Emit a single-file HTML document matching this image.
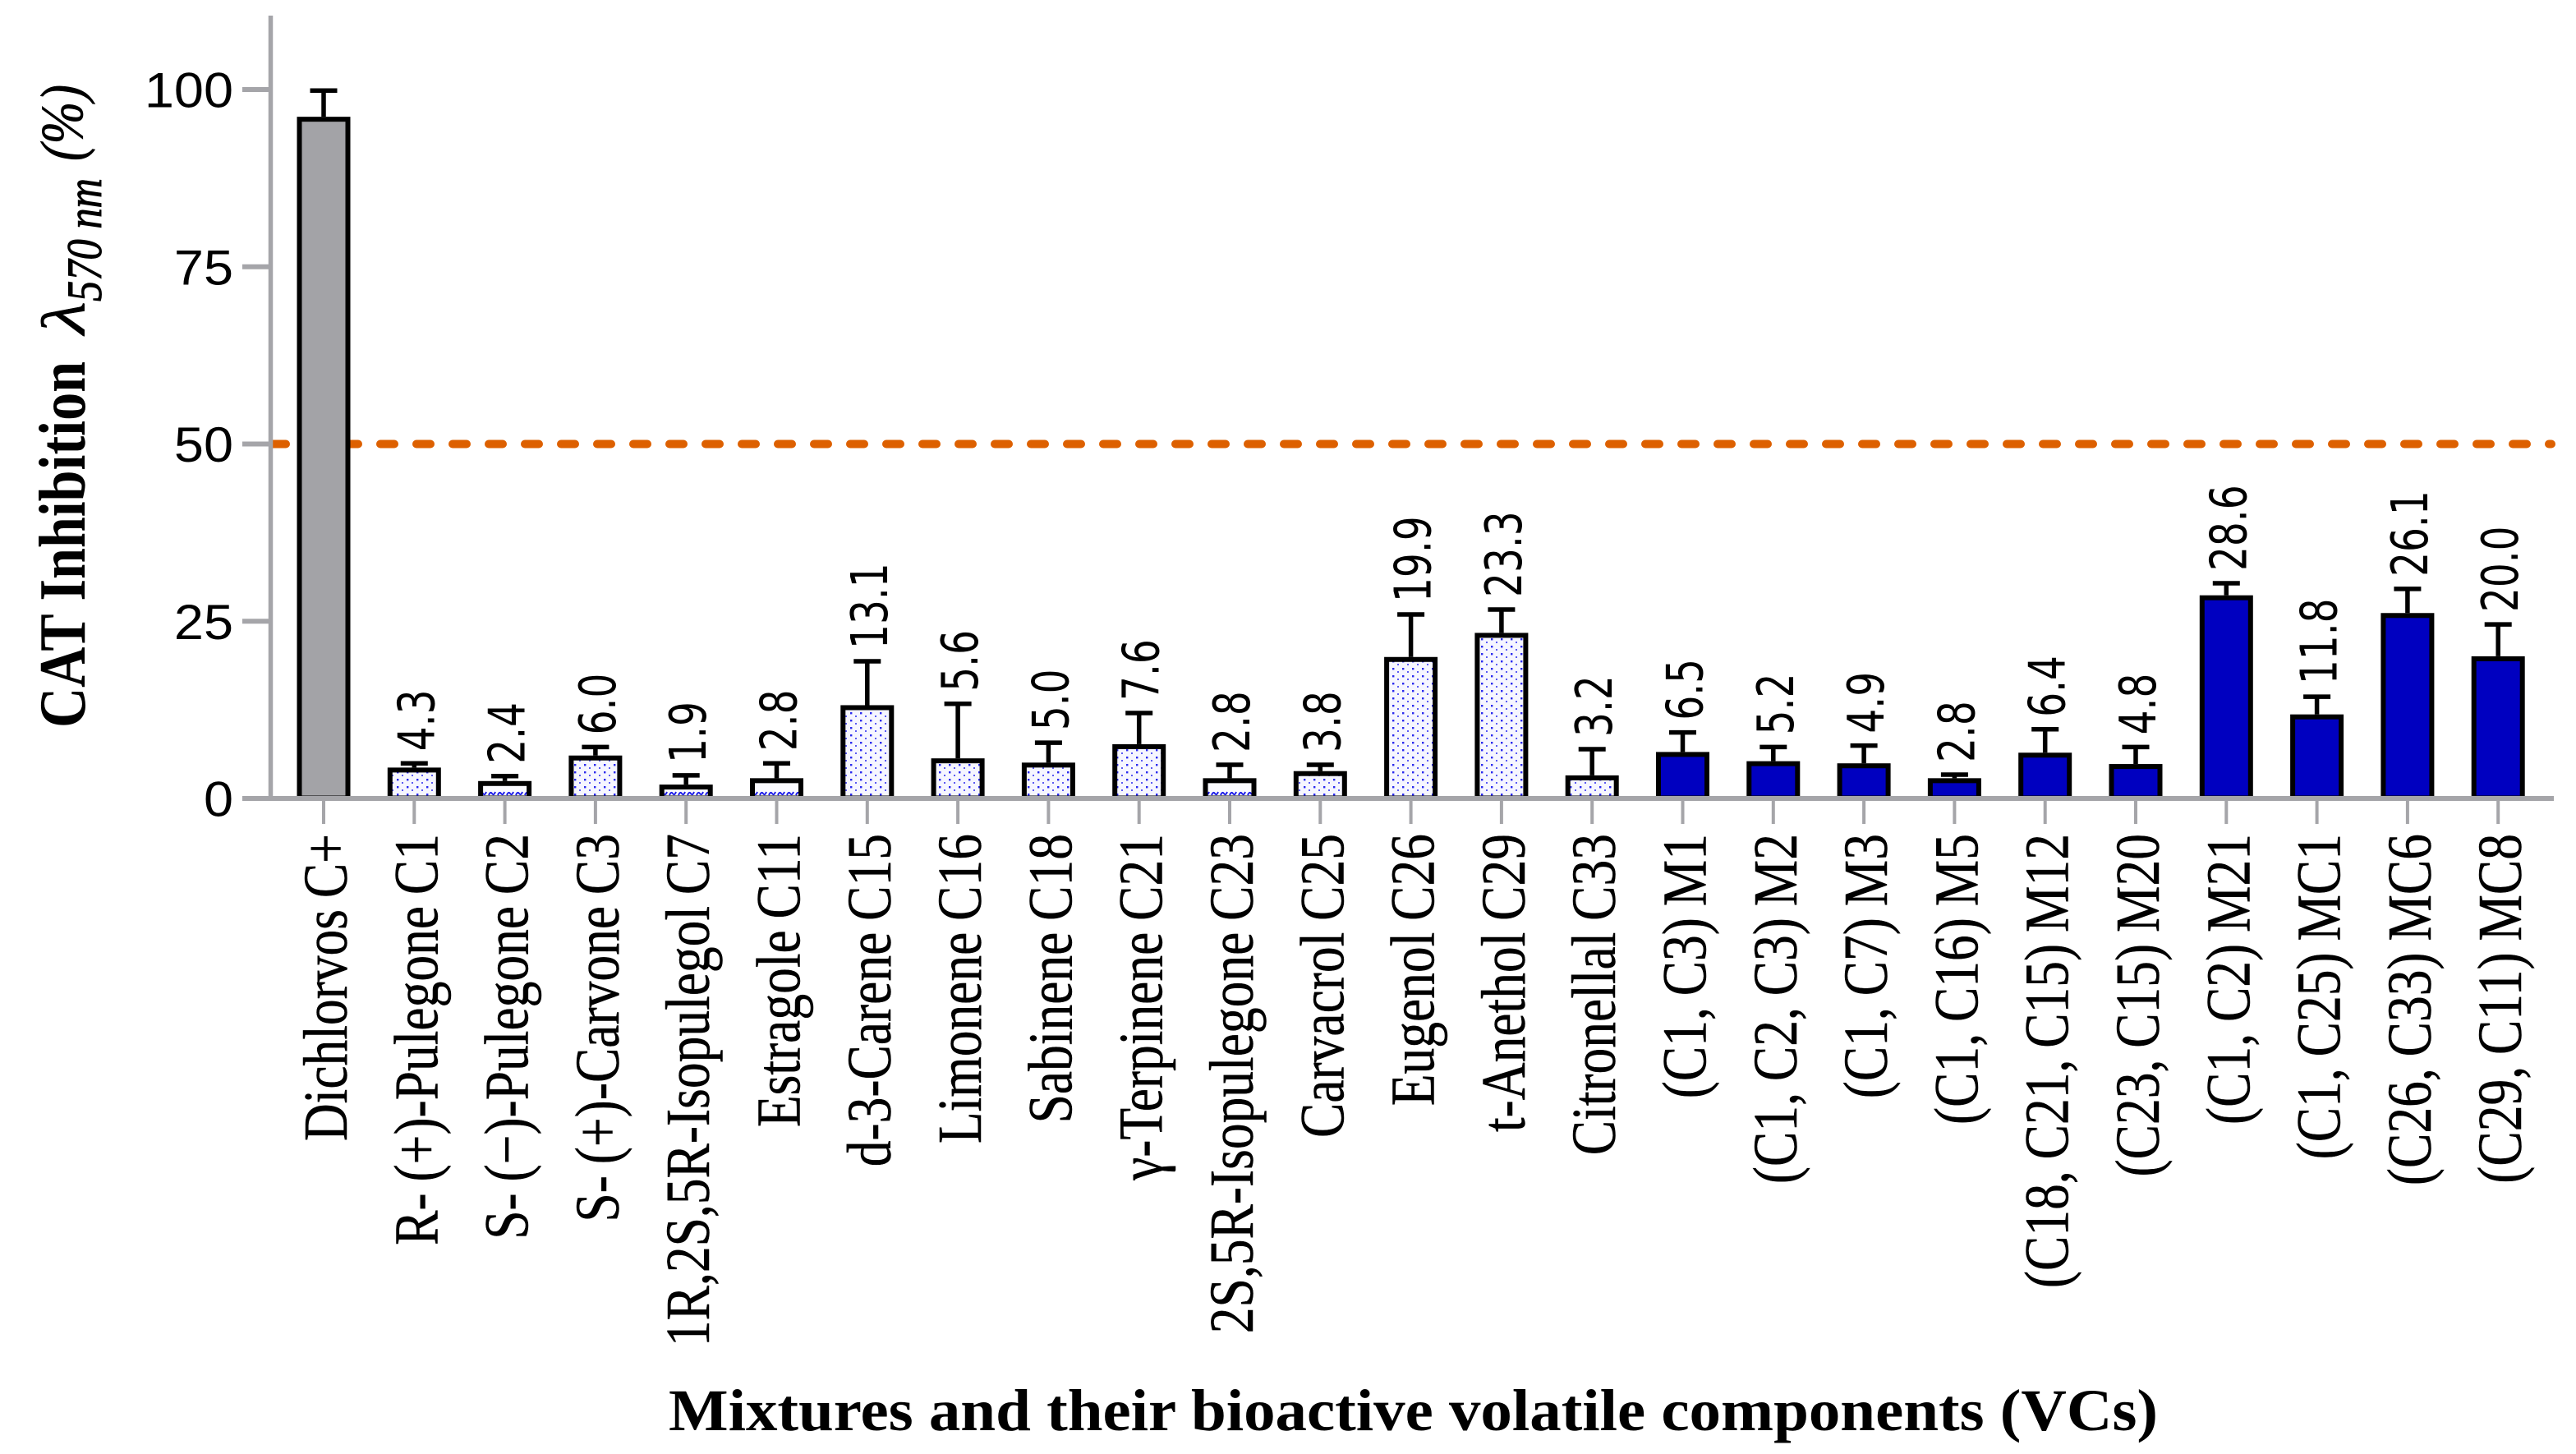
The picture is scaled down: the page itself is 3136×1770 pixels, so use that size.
<!DOCTYPE html>
<html lang="en">
<head>
<meta charset="utf-8">
<title>CAT Inhibition chart</title>
<style>
html,body{margin:0;padding:0;background:#fff;}
svg{display:block;}
</style>
</head>
<body>
<svg id="chart" xmlns="http://www.w3.org/2000/svg" width="3136" height="1770" viewBox="0 0 3136 1770">
  <defs>
    <pattern id="dots" patternUnits="userSpaceOnUse" width="12" height="9">
      <rect width="12" height="9" fill="#f6f6ff"/>
      <rect x="3" y="3" width="2.4" height="2.4" fill="#2a2aee"/>
      <rect x="9" y="7" width="2" height="2" fill="#5a5af2"/>
    </pattern>
    <pattern id="waves" patternUnits="userSpaceOnUse" width="11" height="16">
      <rect width="11" height="16" fill="#fbfbff"/>
      <path d="M1 8 Q3 3 5 6 Q7 9 9 4" fill="none" stroke="#1c1ce8" stroke-width="2"/>
    </pattern>
  </defs>
  <rect width="3136" height="1770" fill="#fff"/>
  <g id="threshold"></g>
  <g id="bars"></g>
  <g id="axes"></g>
  <g id="labels"></g>
  <g fill="#000" font-family="'Liberation Serif',serif">
    <text transform="translate(103,886) rotate(-90) scale(1,1.18)" font-size="68" font-weight="bold" textLength="446" lengthAdjust="spacingAndGlyphs">CAT Inhibition</text>
    <text transform="translate(103,407) rotate(-90) scale(1,1.08)" font-size="70" font-style="italic" stroke="#000" stroke-width="0.4" textLength="40" lengthAdjust="spacingAndGlyphs">λ</text>
    <text transform="translate(123,367) rotate(-90) scale(1,1.2)" font-size="50" font-style="italic" stroke="#000" stroke-width="0.8" textLength="150" lengthAdjust="spacingAndGlyphs">570 nm</text>
    <text transform="translate(100,196) rotate(-90) scale(1,1.18)" font-size="62" font-style="italic" stroke="#000" stroke-width="0.6" textLength="93" lengthAdjust="spacingAndGlyphs">(%)</text>
  </g>
  <text x="814" y="1741" font-family="'Liberation Serif',serif" font-size="72" font-weight="bold" textLength="1813" lengthAdjust="spacingAndGlyphs" fill="#000">Mixtures and their bioactive volatile components (VCs)</text>
</svg>
<script>
const categories = ["Dichlorvos C+","R- (+)-Pulegone C1","S- (−)-Pulegone C2","S- (+)-Carvone C3","1R,2S,5R-Isopulegol C7","Estragole C11","d-3-Carene C15","Limonene C16","Sabinene C18","γ-Terpinene C21","2S,5R-Isopulegone C23","Carvacrol C25","Eugenol C26","t-Anethol C29","Citronellal C33","(C1, C3) M1","(C1, C2, C3) M2","(C1, C7) M3","(C1, C16) M5","(C18, C21, C15) M12","(C23, C15) M20","(C1, C2) M21","(C1, C25) MC1","(C26, C33) MC6","(C29, C11) MC8"];
const groups = ["control","compound","compound","compound","compound","compound","compound","compound","compound","compound","compound","compound","compound","compound","compound","mixture","mixture","mixture","mixture","mixture","mixture","mixture","mixture","mixture","mixture"];
const values = [96.1,4.3,2.4,6.0,1.9,2.8,13.1,5.6,5.0,7.6,2.8,3.8,19.9,23.3,3.2,6.5,5.2,4.9,2.8,6.4,4.8,28.6,11.8,26.1,20.0];
const errors = [3.7,0.6,0.7,1.2,1.3,2.1,6.2,7.7,2.8,4.4,1.9,0.9,6.0,3.3,3.7,2.75,2.0,2.5,0.5,3.3,2.4,1.7,2.5,3.4,4.5];
const valueLabels = ["","4.3","2.4","6.0","1.9","2.8","13.1","5.6","5.0","7.6","2.8","3.8","19.9","23.3","3.2","6.5","5.2","4.9","2.8","6.4","4.8","28.6","11.8","26.1","20.0"];
const yTicks = [0,25,50,75,100];
const threshold = 50;

const NS = "http://www.w3.org/2000/svg";
const xScale = i => 394 + 110.3 * i;
const yScale = v => 971.5 - 8.63 * v;

function mk(parent, tag, attrs, text) {
  const el = document.createElementNS(NS, tag);
  for (const k in attrs) el.setAttribute(k, attrs[k]);
  if (text !== undefined) el.textContent = text;
  parent.appendChild(el);
  return el;
}
function slug(s) {
  return s.toLowerCase().replace(/[^a-z0-9]+/g, "-").replace(/^-|-$/g, "");
}

const gThreshold = document.getElementById("threshold");
const gBars = document.getElementById("bars");
const gAxes = document.getElementById("axes");
const gLabels = document.getElementById("labels");

const thresholdLine = mk(gThreshold, "line", {x1:331, x2:3106, y1:yScale(threshold)+0.5, y2:yScale(threshold)+0.5, stroke:"#dd6000", "stroke-width":10, "stroke-dasharray":"17 27", "stroke-linecap":"round"});



const BAR_W = 59, SW = 6, CAP = 33;
categories.forEach((name, i) => {
  const cx = xScale(i), v = values[i], top = yScale(v), etop = yScale(v + errors[i]);
  let fill = "#0000c0";
  if (groups[i] === "control") fill = "#a3a3a7";
  if (groups[i] === "compound") fill = v < 3 ? "url(#waves)" : "url(#dots)";

  const err = mk(gBars, "path", {d:`M${cx} ${top} V${etop} M${cx-CAP/2} ${etop} H${cx+CAP/2}`, fill:"none", stroke:"#000", "stroke-width":5.5});
  
  

  const bar = mk(gBars, "rect", {x:cx-BAR_W/2, y:top+SW/2, width:BAR_W, height:Math.max(0, 971.5-top-SW/2), fill:fill, stroke:"#000", "stroke-width":SW});
  
  

  const tick = mk(gAxes, "line", {x1:cx, x2:cx, y1:972, y2:1003, stroke:"#a5a5a9", "stroke-width":4});
  
  

  const cat = mk(gLabels, "text", {transform:`translate(${cx+28},1015) rotate(-90) scale(1,1.2)`, "text-anchor":"end", "font-family":"'Liberation Serif',serif", "font-size":63.5, "word-spacing":-2, stroke:"#000", "stroke-width":0.4, fill:"#000"}, name);
  
  

  if (valueLabels[i]) {
    const lab = mk(gLabels, "text", {transform:`translate(${cx+24},${etop-15}) rotate(-90) scale(1,1.3)`, "font-family":"'DejaVu Sans',sans-serif", "font-size":47, fill:"#000"}, valueLabels[i]);
    
    
  }
});

const yAxis = mk(gAxes, "line", {x1:329.5, x2:329.5, y1:19, y2:975, stroke:"#a5a5a9", "stroke-width":5.5});



const xAxis = mk(gAxes, "line", {x1:295, x2:3109, y1:972, y2:972, stroke:"#a5a5a9", "stroke-width":6});



yTicks.forEach(t => {
  const y = yScale(t);
  const tick = mk(gAxes, "line", {x1:295, x2:330, y1:y+0.5, y2:y+0.5, stroke:"#a5a5a9", "stroke-width":6});
  
  

  const lab = mk(gLabels, "text", {transform:`translate(284,${y+22}) scale(1.08,1)`, "text-anchor":"end", "font-family":"'Liberation Sans',sans-serif", "font-size":60, fill:"#000"}, String(t));
  
  
});
</script>
</body>
</html>
